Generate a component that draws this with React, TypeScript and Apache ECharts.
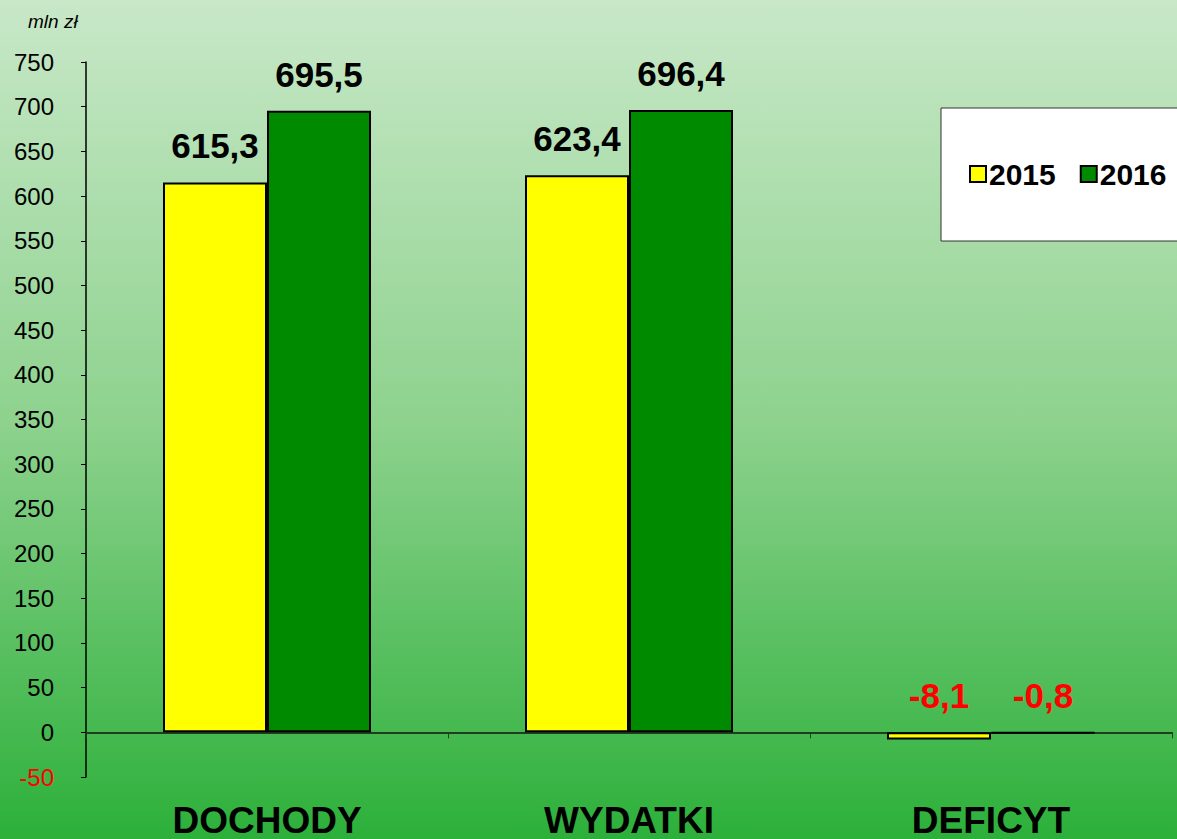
import React, { useEffect, useRef } from "react";
import * as echarts from "echarts";

const categories = ["DOCHODY", "WYDATKI", "DEFICYT"];
const seriesNames = ["2015", "2016"];
const values2015 = [615.3, 623.4, -8.1];
const values2016 = [695.5, 696.4, -0.8];
const yMin = -50;
const yMax = 750;
const yInterval = 50;
const unitLabel = "mln zł";

const fmt = (v: number) => v.toFixed(1).replace(".", ",");

export default function App() {
  const ref = useRef<HTMLDivElement>(null);
  useEffect(() => {
    document.body.style.margin = "0";
    const chart = echarts.init(ref.current!, undefined, { renderer: "svg" });
    const makeData = (vals: number[]) =>
      vals.map((v) => ({
        value: v,
        label: { color: v < 0 ? "#ff0000" : "#000000" },
      }));
    const labelCfg = {
      show: true,
      position: "top" as const,
      distance: 19,
      fontFamily: "Liberation Sans, Arial, sans-serif",
      fontWeight: "bold" as const,
      fontSize: 35,
      formatter: (p: any) => fmt(p.value),
    };
    chart.setOption({
      animation: false,
      backgroundColor: new echarts.graphic.LinearGradient(0, 0, 0, 1, [
        { offset: 0, color: "#c8e8c8" },
        { offset: 0.5, color: "#8ed28e" },
        { offset: 1, color: "#2cb03a" },
      ]),
      textStyle: { fontFamily: "Liberation Sans, Arial, sans-serif" },
      grid: {
        left: 86,
        right: 5,
        top: 62,
        bottom: 62,
        containLabel: false,
        outerBoundsMode: "none",
      },
      legend: {
        left: 964,
        top: 154,
        itemWidth: 16,
        itemHeight: 16,
        itemGap: 24,
        icon: "rect",
        textStyle: {
          fontSize: 30,
          fontWeight: "bold",
          color: "#000",
          padding: [0, 0, 0, -2],
        },
        data: seriesNames,
      },
      graphic: [
        {
          type: "rect",
          z: -1,
          shape: { x: 941, y: 108, width: 260, height: 133 },
          style: { fill: "#ffffff", stroke: "#333333", lineWidth: 1 },
        },
        {
          type: "text",
          left: 28,
          top: 12,
          style: {
            text: unitLabel,
            fontSize: 19,
            fontStyle: "italic",
            fontFamily: "Liberation Sans, Arial, sans-serif",
            fill: "#000",
          },
        },
      ],
      xAxis: {
        type: "category",
        data: categories,
        axisLine: { onZero: true, lineStyle: { color: "#1e3e1e", width: 2 } },
        axisTick: { show: true, length: 6, lineStyle: { color: "#1e3e1e", width: 1 } },
        axisLabel: {
          margin: 28,
          fontSize: 37,
          lineHeight: 30,
          fontWeight: "bold",
          color: "#000",
        },
      },
      yAxis: {
        type: "value",
        min: yMin,
        max: yMax,
        interval: yInterval,
        splitLine: { show: false },
        axisLine: { show: true, lineStyle: { color: "#000", width: 1.5 } },
        axisTick: { show: true, length: 5, lineStyle: { color: "#000" } },
        axisLabel: {
          margin: 32,
          fontSize: 24,
          color: (v: any) => (Number(v) < 0 ? "#ff0000" : "#000000"),
        },
      },
      series: [
        {
          name: seriesNames[0],
          type: "bar",
          barWidth: 104,
          barGap: "0%",
          data: makeData(values2015),
          itemStyle: { color: "#ffff00", borderColor: "#000", borderWidth: 2 },
          label: labelCfg,
        },
        {
          name: seriesNames[1],
          type: "bar",
          barWidth: 104,
          barGap: "0%",
          data: makeData(values2016),
          itemStyle: { color: "#008a00", borderColor: "#000", borderWidth: 2 },
          label: labelCfg,
        },
      ],
    });
    return () => chart.dispose();
  }, []);
  return <div ref={ref} style={{ width: 1177, height: 839 }} />;
}
